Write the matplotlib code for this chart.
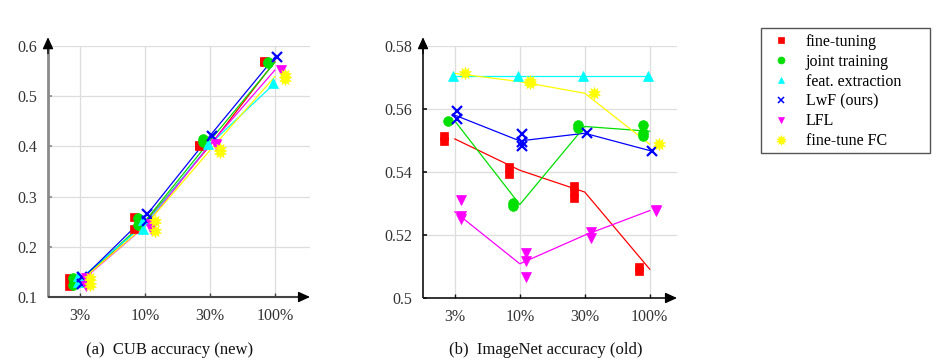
import matplotlib
matplotlib.use("Agg")
import matplotlib.pyplot as plt
from matplotlib.lines import Line2D
from matplotlib.patches import FancyArrowPatch, Rectangle
import numpy as np

plt.rcParams['font.family'] = ['Liberation Serif', 'DejaVu Serif']

categories = ["3%", "10%", "30%", "100%"]
methods = ["fine-tuning", "joint training", "feat. extraction", "LwF (ours)", "LFL", "fine-tune FC"]
colors = ["#ff0000", "#00e000", "#00ffff", "#0000ff", "#ff00ff", "#ffff00"]
markers = ["s", "o", "^", "x", "v", (10, 1, 0)]

# CUB accuracy (new) — repeated runs per training-data fraction
cub_finetune = [[0.137, 0.122], [0.260, 0.236], [0.402, 0.401], [0.570, 0.568]]
cub_joint = [[0.138, 0.124], [0.258, 0.243], [0.414, 0.408], [0.569, 0.566]]
cub_feat = [[0.142, 0.130], [0.254, 0.236], [0.404], [0.526]]
cub_lwf = [[0.139, 0.125], [0.266, 0.252], [0.421], [0.578]]
cub_lfl = [[0.138, 0.121], [0.245, 0.236], [0.405, 0.402], [0.552]]
cub_ftfc = [[0.138, 0.124], [0.251, 0.232], [0.395, 0.389], [0.543, 0.535]]

# ImageNet accuracy (old)
imn_finetune = [[0.5513, 0.5497], [0.5417, 0.5394], [0.5354, 0.5338, 0.5317], [0.5098, 0.5085]]
imn_joint = [[0.5562], [0.5300, 0.5293], [0.5550, 0.5539], [0.5550, 0.5523, 0.5515]]
imn_feat = [[0.5705], [0.5705], [0.5705], [0.5705]]
imn_lwf = [[0.5594, 0.5567], [0.5521, 0.5494, 0.5481], [0.5523], [0.5468]]
imn_lfl = [[0.5312, 0.5259, 0.5250], [0.5143, 0.5116, 0.5067], [0.5209, 0.5190], [0.5280, 0.5275]]
imn_ftfc = [[0.5713], [0.5690, 0.5684], [0.5650], [0.5488]]

cub_data = [cub_finetune, cub_joint, cub_feat, cub_lwf, cub_lfl, cub_ftfc]
imn_data = [imn_finetune, imn_joint, imn_feat, imn_lwf, imn_lfl, imn_ftfc]

cub_yticks = [0.1, 0.2, 0.3, 0.4, 0.5, 0.6]
cub_yticklabels = ["0.1", "0.2", "0.3", "0.4", "0.5", "0.6"]
imn_yticks = [0.5, 0.52, 0.54, 0.56, 0.58]
imn_yticklabels = ["0.5", "0.52", "0.54", "0.56", "0.58"]

offsets = [-0.16, -0.10, -0.03, 0.03, 0.10, 0.15]
msizes = [6, 7, 7.5, 6.5, 7.5, 9]

W, H = 946, 362
fig = plt.figure(figsize=(W / 100, H / 100), dpi=100)


def px_axes(x0, x1, ytop, ybot):
    return fig.add_axes([x0 / W, 1 - ybot / H, (x1 - x0) / W, (ybot - ytop) / H])


def draw(ax, data, yticks, yticklabels, ylim, xlim, ycol, xcol, ylw, xlw):
    x = np.arange(len(categories))
    for i, series in enumerate(data):
        means = [np.mean(v) for v in series]
        ax.plot(x, means, color=colors[i], lw=0.9, zorder=3)
        for j, vals in enumerate(series):
            ax.plot([x[j] + offsets[i]] * len(vals), vals, linestyle='none',
                    marker=markers[i], color=colors[i], ms=msizes[i],
                    mew=1.6 if markers[i] == 'x' else 0.5, zorder=4)
    ax.set_xlim(*xlim)
    ax.set_ylim(*ylim)
    ax.set_xticks(x)
    ax.set_xticklabels(categories)
    ax.set_yticks(yticks)
    ax.set_yticklabels(yticklabels)
    ax.grid(True, color="#dddddd", lw=0.9, zorder=0)
    ax.set_axisbelow(True)
    for s in ax.spines.values():
        s.set_visible(False)
    ax.tick_params(axis='both', direction='in', length=3, labelsize=11.5,
                   colors='#333333', pad=8)
    ax.tick_params(axis='y', color=ycol, width=1.2)
    ax.tick_params(axis='x', color=xcol, width=1.0)
    # axis lines
    ax.plot([0, 0], [0, 1.0], transform=ax.transAxes, color=ycol, lw=ylw,
            clip_on=False, zorder=5, solid_capstyle='butt')
    ax.plot([0, 0.98], [0, 0], transform=ax.transAxes, color=xcol, lw=xlw,
            clip_on=False, zorder=5, solid_capstyle='butt')
    # black arrowheads
    ax.add_patch(FancyArrowPatch((0, 0.97), (0, 1.035), transform=ax.transAxes,
                                 arrowstyle='-|>,head_length=7,head_width=3.2',
                                 color='black', lw=1.0, clip_on=False, zorder=6,
                                 shrinkA=0, shrinkB=0))
    ax.add_patch(FancyArrowPatch((0.96, 0), (1.0, 0), transform=ax.transAxes,
                                 arrowstyle='-|>,head_length=7,head_width=3.2',
                                 color='black', lw=1.0, clip_on=False, zorder=6,
                                 shrinkA=0, shrinkB=0))


ax1 = px_axes(48, 310, 46, 297)
draw(ax1, cub_data, cub_yticks, cub_yticklabels, (0.1, 0.6), (-0.49, 3.54),
     '#8a8a8a', '#444444', 2.0, 1.5)
ax2 = px_axes(423, 677, 46, 298)
draw(ax2, imn_data, imn_yticks, imn_yticklabels, (0.5, 0.58), (-0.49, 3.42),
     '#111111', '#111111', 1.2, 1.2)

fig.text(170 / W, 1 - 350 / H, "(a)  CUB accuracy (new)", ha='center', va='center',
         fontsize=12, color='#111111')
fig.text(546 / W, 1 - 350 / H, "(b)  ImageNet accuracy (old)", ha='center', va='center',
         fontsize=12, color='#111111')

handles = [Line2D([], [], linestyle='none', marker=markers[i], color=colors[i],
                  ms=5 if i != 5 else 7, mew=1.1 if markers[i] == 'x' else 0.5)
           for i in range(len(methods))]
leg = fig.legend(handles, methods, loc='upper left',
                 bbox_to_anchor=(772 / W, 1 - 34 / H), borderaxespad=0,
                 frameon=False, fontsize=11.5, labelspacing=0.24,
                 handlelength=1.1, handletextpad=1.0, borderpad=0.0)
fig.patches.append(Rectangle((761 / W, 1 - 153 / H), (930 - 761) / W, (153 - 28) / H,
                             transform=fig.transFigure, fill=False,
                             edgecolor='#555555', lw=1.0))

fig.savefig("out.png", dpi=100)
